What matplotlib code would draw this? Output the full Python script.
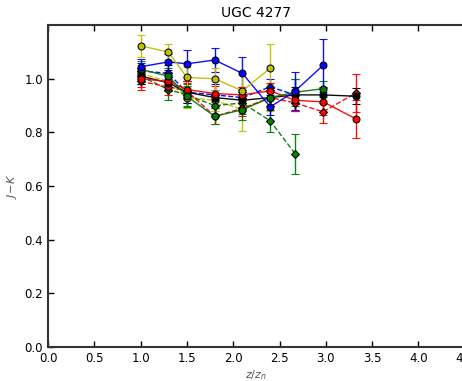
import matplotlib
matplotlib.use("Agg")
import matplotlib.pyplot as plt
import numpy as np

# Vertical J-K colour profiles of UGC 4277 at several radial positions
z = [1.0, 1.3, 1.5, 1.8, 2.1, 2.4, 2.67, 2.97, 3.33]

yellow_up = [1.123, 1.10, 1.005, 1.0, 0.955, 1.04]
yellow_up_err = [0.04, 0.03, 0.04, 0.04, 0.06, 0.09]
yellow_dn = [1.02, 0.99, 0.93, 0.92, 0.885, 0.93]
yellow_dn_err = [0.03, 0.03, 0.04, 0.04, 0.08, 0.05]

blue_up = [1.045, 1.063, 1.056, 1.07, 1.02, 0.895, 0.955, 1.05]
blue_up_err = [0.03, 0.03, 0.05, 0.045, 0.06, 0.03, 0.07, 0.10]
blue_dn = [1.03, 1.02, 0.95, 0.94, 0.93, 0.97, 0.94]
blue_dn_err = [0.03, 0.03, 0.04, 0.04, 0.04, 0.03, 0.06]

green_up = [1.035, 1.01, 0.935, 0.86, 0.885, 0.93, 0.95, 0.963]
green_up_err = [0.03, 0.03, 0.04, 0.03, 0.04, 0.03, 0.05, 0.03]
green_dn = [1.01, 0.96, 0.94, 0.90, 0.91, 0.843, 0.72]
green_dn_err = [0.03, 0.04, 0.04, 0.04, 0.04, 0.04, 0.075]

red_up = [1.00, 0.99, 0.96, 0.945, 0.94, 0.955, 0.92, 0.914, 0.85]
red_up_err = [0.03, 0.03, 0.03, 0.03, 0.03, 0.03, 0.04, 0.05, 0.07]
red_dn = [0.99, 0.97, 0.955, 0.86, 0.89, 0.93, 0.91, 0.877, 0.948]
red_dn_err = [0.03, 0.03, 0.03, 0.03, 0.03, 0.03, 0.03, 0.04, 0.07]

black_up = [1.01, 0.985, 0.95, 0.93, 0.92, 0.93, 0.94, 0.94, 0.935]
black_up_err = [0.03, 0.03, 0.04, 0.03, 0.03, 0.03, 0.03, 0.03, 0.03]

xticks = [0.0, 0.5, 1.0, 1.5, 2.0, 2.5, 3.0, 3.5, 4.0, 4.5]
yticks = [0.0, 0.2, 0.4, 0.6, 0.8, 1.0]

fig = plt.figure(figsize=(4.62, 3.81), dpi=100)
# the axes run slightly past the right edge of the canvas
ax = fig.add_axes([0.1039, 0.089, 0.902, 0.845])

yellow = (0.75, 0.75, 0.0)
green = (0.0, 0.5, 0.0)

series = [
    (yellow_dn, yellow_dn_err, yellow, "--", "o"),
    (blue_dn, blue_dn_err, "b", "--", "D"),
    (green_dn, green_dn_err, green, "--", "D"),
    (red_dn, red_dn_err, "r", "--", "D"),
    (black_up, black_up_err, "k", "-", "o"),
    (red_up, red_up_err, "r", "-", "o"),
    (green_up, green_up_err, green, "-", "o"),
    (blue_up, blue_up_err, "b", "-", "o"),
    (yellow_up, yellow_up_err, yellow, "-", "o"),
]

for vals, errs, col, ls, mk in series:
    xs = z[:len(vals)]
    ax.errorbar(xs, vals, yerr=errs, color=col, ls=ls, lw=1.0,
                marker=mk, ms=5 if mk == "o" else 4.5, mfc=col, mec="k",
                mew=0.8, capsize=3, elinewidth=1.0, alpha=0.95)

ax.set_xlim(0, 4.5)
ax.set_ylim(0, 1.2)
ax.set_xticks(xticks)
ax.set_yticks(yticks)
ax.set_xticklabels([f"{t:.1f}" for t in xticks], fontsize=8.5)
ax.set_yticklabels([f"{t:.1f}" for t in yticks], fontsize=8.5)
ax.tick_params(direction="in", length=4, width=1, top=True, right=False)
for s in ax.spines.values():
    s.set_linewidth(1.5)
    s.set_color("#333333")

ax.set_title("UGC 4277", fontsize=10)
ax.set_xlabel("$z/z_n$", fontsize=8, color="#555555", labelpad=2)
ax.set_ylabel("$J\\!-\\!K$", fontsize=8, color="#555555", labelpad=4)

fig.savefig("out.png", dpi=100)
